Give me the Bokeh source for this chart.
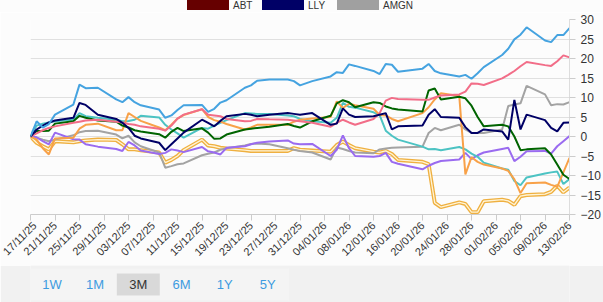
import pandas as pd
from bokeh.plotting import figure
from bokeh.layouts import column
from bokeh.models import Range1d, FixedTicker, DatetimeTickFormatter, Div
from bokeh.embed import file_html
from bokeh.resources import INLINE
from bokeh.core.properties import value

# Trading days on the chart
dates = [
    "2025-11-17", "2025-11-18", "2025-11-19", "2025-11-20", "2025-11-21",
    "2025-11-24", "2025-11-25", "2025-11-26", "2025-11-28",
    "2025-12-01", "2025-12-02", "2025-12-03", "2025-12-04", "2025-12-05",
    "2025-12-08", "2025-12-09", "2025-12-10", "2025-12-11", "2025-12-12",
    "2025-12-15", "2025-12-16", "2025-12-17", "2025-12-18", "2025-12-19",
    "2025-12-22", "2025-12-23", "2025-12-24", "2025-12-26",
    "2025-12-29", "2025-12-30", "2025-12-31", "2026-01-02",
    "2026-01-05", "2026-01-06", "2026-01-07", "2026-01-08", "2026-01-09",
    "2026-01-12", "2026-01-13", "2026-01-14", "2026-01-15", "2026-01-16",
    "2026-01-20", "2026-01-21", "2026-01-22", "2026-01-23",
    "2026-01-26", "2026-01-27", "2026-01-28", "2026-01-29", "2026-01-30",
    "2026-02-02", "2026-02-03", "2026-02-04", "2026-02-05", "2026-02-06",
    "2026-02-09", "2026-02-10", "2026-02-11", "2026-02-12", "2026-02-13",
]

# Relative performance (%) of each series
blue = [0, 3.9, 2.3, 3.2, 5.6, 8.2, 13.3, 12.4, 12.5,
        9.5, 8.8, 10.1, 8.8, 8.0, 6.9, 4.8, 5.4, 6.8, 8.0,
        8.1, 6.3, 7.1, 8.7, 9.3, 12.5, 13.1, 14.3, 14.6,
        14.6, 14.2, 13.1, 14.2, 15.4, 16.5, 16.3, 18.5, 18.1,
        16.8, 16.0, 18.6, 18.4, 16.6, 17.4, 18.6, 16.8, 16.2,
        15.4, 15.8, 14.8, 16.2, 17.8, 20.9, 22.5, 24.9, 26.1, 28.0,
        24.6, 24.2, 26.0, 26.0, 27.8]
pink = [0, 0.8, 1.6, 2.2, 2.6, 3.5, 3.8, 4.1, 4.3,
        3.8, 3.6, 3.2, 3.0, 2.6, 2.0, 1.5, 2.8, 4.6, 5.6,
        7.0, 5.6, 5.4, 5.2, 4.5, 3.9, 4.0, 4.5, 4.4,
        4.3, 4.1, 3.9, 3.5, 2.5, 3.5, 4.3, 3.6, 3.0,
        4.5, 6.0, 9.2, 9.9, 9.6, 9.4, 9.4, 10.0, 10.5,
        10.8, 11.5, 13.6, 13.5, 13.2, 14.9, 15.8, 16.8, 18.0, 19.1,
        18.3, 18.1, 19.3, 20.8, 20.3]
navy = [0, 1.8, 2.8, 3.6, 4.1, 4.8, 8.6, 8.1, 5.6,
        4.5, 3.5, 2.2, 0.2, -0.5, -1.6, -3.5, -2.0, -0.5, 1.0,
        4.3, 3.5, 2.6, 4.0, 5.2, 5.8, 5.6, 5.2, 5.6,
        6.0, 5.8, 5.6, 6.0, 3.0, 3.3, 7.2, 5.6, 5.0,
        5.2, 5.6, 6.0, 1.8, 2.6, 2.8, 5.6, 7.0, 5.0,
        4.8, 2.4, 0.9, 0.9, 1.8, 1.3, -0.8, 9.4, 1.8, 5.6,
        4.2, 2.2, 1.3, 3.5, 3.6]
green = [0, 1.4, 1.4, 1.5, 3.3, 3.9, 5.3, 4.8, 4.1,
         3.8, 2.8, 2.3, 1.6, 1.3, 0.6, -0.3, 1.2, 2.2, 1.4,
         2.1, 1.0, -0.6, -0.5, 0.5, 1.8, 2.0, 2.2, 2.5,
         3.2, 2.7, 2.3, 3.9, 5.3, 8.5, 9.3, 8.8, 7.5,
         8.8, 8.6, 7.7, 7.2, 6.9, 6.4, 11.8, 12.3, 9.5,
         10.2, 9.8, 7.9, 5.0, 2.6, 3.0, 2.6, 0.0, -3.5, -3.3,
         -3.0, -4.6, -7.2, -9.8, -10.9]
teal = [0, 2.8, 3.3, 3.6, 3.9, 4.3, 6.0, 5.2, 4.8,
        4.3, 3.9, 4.0, 4.3, 5.3, 4.9, 3.0, 1.8, 0.8, -0.3,
        2.2, 2.0, 2.8, 3.5, 4.2, 6.0, 5.9, 5.8, 5.8,
        5.4, 5.2, 4.5, 3.9, 3.5, 4.8, 8.6, 7.6, 7.4,
        6.2, 5.5, 1.5, 0.2, -0.8, -2.6, -3.3, -3.2, -3.5,
        -2.7, -3.3, -4.4, -5.2, -6.7, -8.2, -8.5, -11.4, -12.5, -10.5,
        -9.5, -9.2, -9.0, -12.2, -10.9]
orange = [0, -0.8, -3.0, -4.6, -0.5, -0.3, 2.0, 3.0, 3.3,
          1.6, 1.6, 6.0, 5.0, 4.0, 2.3, 1.6, 3.0, 4.6, 5.5,
          7.0, 5.0, 4.2, 3.8, 3.2, 1.8, 2.3, 3.0, 3.0,
          3.0, 3.8, 4.3, 4.6, 5.0, 9.0, 7.3, 8.4, 8.0,
          7.1, 5.5, 5.4, 4.5, 3.9, 6.0, 7.5, 9.5, 11.1,
          10.4, -9.7, -5.3, -6.5, -7.2, -8.2, -8.8, -11.0, -14.5, -12.0,
          -11.8, -12.4, -12.9, -9.2, -5.5]
gray = [0, -0.3, -0.8, -1.2, -0.8, 0.3, 1.1, 1.4, 1.5,
        0.5, -0.5, 0.2, -1.5, -2.5, -4.1, -8.0, -7.6, -7.1, -6.9,
        -4.8, -4.4, -4.1, -3.4, -3.0, -2.3, -1.9, -1.8, -2.0,
        -3.0, -3.4, -3.7, -4.1, -5.9, -2.8, -3.2, -3.7, -4.1,
        -4.3, -3.3, -3.1, -2.9, -2.8, -2.6, 0.9, 2.2, 1.6,
        3.0, 1.8, 0.9, 0.9, 0.9, 1.8, 7.8, 8.2, 8.5, 13.0,
        10.8, 8.0, 8.3, 8.2, 8.8]
purple = [0, -0.2, -1.2, -2.0, 1.0, -0.7, -0.8, -2.0, -2.6,
          -3.2, -3.7, -1.4, -2.3, -3.6, -4.5, -4.2, -3.3, -3.6, -4.0,
          -2.7, -3.8, -4.1, -4.6, -2.9, -2.5, -2.0, -1.6, -1.3,
          -1.0, -1.8, -2.0, -1.9, -5.0, -3.4, 0.3, -3.0, -5.0,
          -5.2, -5.0, -4.2, -6.5, -7.0, -8.4, -7.5, -6.8, -6.3,
          -5.9, -4.2, -5.8, -4.8, -4.1, -3.2, -2.9, -6.3, -5.2, -3.8,
          -3.7, -4.4, -2.5, -1.2, 0.1]
gold = [0, -1.6, -2.5, -3.3, -1.2, -1.5, -1.2, -1.0, -0.8,
        -0.9, -2.0, -3.3, -3.3, -3.5, -4.1, -6.7, -6.0, -5.0, -3.5,
        -0.8, -2.3, -2.5, -2.9, -3.1, -3.5, -3.7, -3.7, -3.7,
        -3.7, -3.0, -3.4, -3.6, -3.9, -2.2, -1.3, -2.2, -3.0,
        -3.9, -4.1, -3.7, -4.5, -6.0, -6.5, -7.1, -17.0, -18.1,
        -16.9, -17.3, -19.4, -19.4, -16.6, -16.2, -16.5, -17.5, -15.3, -15.0,
        -14.8, -14.2, -12.6, -14.3, -13.1]

y_ticks = [-20, -15, -10, -5, 0, 5, 10, 15, 20, 25, 30]
legend_names = ["ABT", "LLY", "AMGN"]
legend_colors = ["#660000", "#000066", "#a0a0a0"]
periods = ["1W", "1M", "3M", "6M", "1Y", "5Y"]
selected_period = "3M"

FONT = "Liberation Sans"
CHART_BG = "#fcfcfc"
PANEL_BG = "#f1f1f1"

x = pd.to_datetime(dates)
x_start, x_end = x[0], x[-1]
tick_ms = [int(t.value // 10**6) for t in pd.date_range(x_start, x_end, freq="4D")]

# ---- legend strip (HTML) ------------------------------------------------
parts = []
for i, (name, col) in enumerate(zip(legend_names, legend_colors)):
    left = 187 + 75 * i
    parts.append(
        f'<span style="position:absolute;left:{left}px;top:0;width:42px;height:10px;'
        f'background:{col};"></span>'
        f'<span style="position:absolute;left:{left + 46}px;top:0;line-height:11px;">{name}</span>'
    )
legend_html = (
    f'<div style="position:relative;width:603px;height:12px;font-family:\'{FONT}\';'
    f'font-size:10px;color:#333333;background:{CHART_BG};">' + "".join(parts) + "</div>"
)
top = Div(text=legend_html, width=603, height=12, margin=0,
          styles={"background-color": CHART_BG})

# ---- main chart ---------------------------------------------------------
p = figure(width=603, height=253, x_axis_type="datetime",
           x_range=Range1d(x_start, x_end), y_range=Range1d(-20, 30),
           y_axis_location="right", output_backend="svg", toolbar_location=None,
           min_border_left=30, min_border_right=33, min_border_top=7, min_border_bottom=50,
           background_fill_color=CHART_BG, border_fill_color=CHART_BG)
p.outline_line_color = None
p.xgrid.visible = False
p.ygrid.grid_line_color = "#e0e0e0"
p.ygrid.ticker = FixedTicker(ticks=y_ticks)

p.yaxis.ticker = FixedTicker(ticks=y_ticks)
p.yaxis.axis_line_color = "#dddddd"
p.yaxis.major_tick_line_color = "#cccccc"
p.yaxis.major_tick_out = 6
p.yaxis.major_tick_in = 0
p.yaxis.minor_tick_line_color = None
p.yaxis.major_label_standoff = 5
p.yaxis.major_label_text_font = FONT
p.yaxis.major_label_text_font_size = "12px"
p.yaxis.major_label_text_color = "#333333"

p.xaxis.ticker = FixedTicker(ticks=tick_ms)
p.xaxis.formatter = DatetimeTickFormatter(days="%d/%m/%y", months="%d/%m/%y")
p.xaxis.major_label_orientation = 0.785398
p.xaxis.axis_line_color = "#cccccc"
p.xaxis.major_tick_line_color = "#cccccc"
p.xaxis.major_tick_out = 6
p.xaxis.major_tick_in = 0
p.xaxis.minor_tick_line_color = None
p.xaxis.major_label_standoff = 3
p.xaxis.major_label_text_font = FONT
p.xaxis.major_label_text_font_size = "11px"
p.xaxis.major_label_text_color = "#333333"

# double-stroked line: wide outer stroke with a pale core
p.line(x, gold, line_color="#efb040", line_width=4)
p.line(x, gold, line_color="#fff4d6", line_width=1.3)
for ys, col in [(gray, "#a3a3a3"), (purple, "#9a6bf0"), (teal, "#4cc3c3"),
                (orange, "#f8a148"), (green, "#006400"), (pink, "#f26d88"),
                (navy, "#000066"), (blue, "#45a3e0")]:
    p.line(x, ys, line_color=col, line_width=2)

# ---- period selector ----------------------------------------------------
btn = figure(width=603, height=37, x_range=Range1d(0, 603), y_range=Range1d(0, 37),
             output_backend="svg", toolbar_location=None, min_border=0,
             background_fill_color=PANEL_BG, border_fill_color=PANEL_BG)
btn.axis.visible = False
btn.grid.visible = False
btn.outline_line_color = None
bx = [24 + 48.3 * i for i in range(len(periods))]
btn.quad(left=[0], right=[289], bottom=[2], top=[34], fill_color="#f4f4f4", line_color=None)
si = periods.index(selected_period)
btn.quad(left=[bx[si] - 24], right=[bx[si] + 24], bottom=[7], top=[29],
         fill_color="#d9d9d9", line_color=None)
btn.text(x=bx, y=[18] * len(bx), text=periods, text_font=value(FONT),
         text_font_size="13px", text_align="center", text_baseline="middle",
         text_color=["#333333" if s == selected_period else "#3d9be0" for s in periods])

layout = column(top, p, btn, spacing=0)
open("out.html", "w").write(file_html(layout, INLINE))
